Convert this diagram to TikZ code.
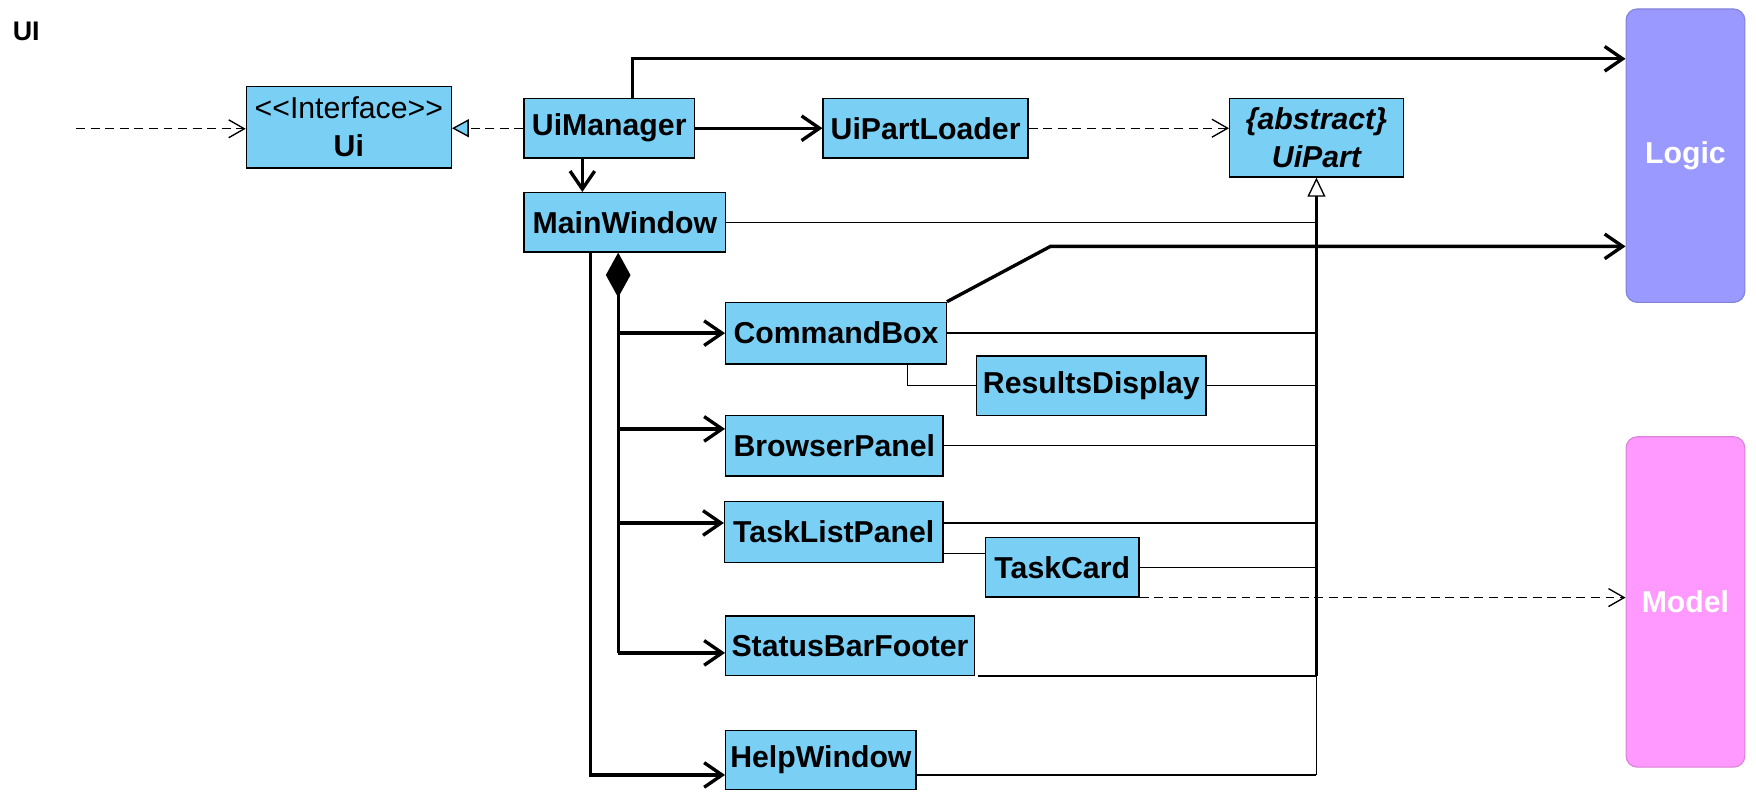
\documentclass[tikz,border=0pt]{standalone}
\usepackage{fontspec}
\setmainfont{Liberation Sans}
\usetikzlibrary{arrows.meta,calc}
\definecolor{boxc}{HTML}{7ACFF5}
\definecolor{logicc}{HTML}{9999FF}
\definecolor{modelc}{HTML}{FF99FF}
\begin{document}
\begin{tikzpicture}[x=0.5pt,y=-0.5pt,
  cls/.style={draw=black, line width=0.6pt, fill=boxc, inner sep=0pt, align=center, font=\fontsize{13.5}{17}\selectfont\bfseries},
  comp/.style={fill=#1, draw=#1!85!black, line width=0.5pt, rounded corners=5pt, text=white, font=\fontsize{13.5}{17}\selectfont\bfseries, inner sep=0pt, minimum width=53pt},
  assoc/.style={line width=1.5pt, -{Straight Barb[length=8pt,width=11pt]}},
  plainthick/.style={line width=1.5pt},
  thinline/.style={line width=0.6pt},
  dep/.style={line width=0.6pt, dash pattern=on 4pt off 2.5pt, -{Straight Barb[length=7pt,width=8pt,line width=0.6pt]}},
  real/.style={line width=0.6pt, dash pattern=on 4pt off 2.5pt, -{Triangle[open,length=7.5pt,width=8pt,fill=boxc,line width=0.6pt]}},
  gen/.style={line width=1.5pt, -{Triangle[open,length=8.5pt,width=8pt,fill=white,line width=0.6pt]}},
]
\useasboundingbox (0,0) rectangle (1568,716);

% title
\node[font=\fontsize{12}{14}\selectfont\bfseries, anchor=west, inner sep=0pt] (title) at (11,28) {UI};

% classes
\node[cls, minimum width=91.5pt, minimum height=36.5pt] (Ui) at (311.5,113.5) {{\mdseries <\kern0pt<Interface>\kern0pt>}\\Ui};
\node[cls, minimum width=76pt, minimum height=26.5pt] (UiManager) at (544,114.5) {UiManager};
\node[cls, minimum width=91.5pt, minimum height=26.5pt] (UiPartLoader) at (826.5,114.5) {UiPartLoader};
\node[cls, minimum width=77.5pt, minimum height=35pt, font=\fontsize{13.5}{17}\selectfont\bfseries\itshape] (UiPart) at (1175.5,123) {\{abstract\}\\UiPart};
\node[cls, minimum width=90pt, minimum height=26.5pt] (MainWindow) at (558,198.5) {MainWindow};
\node[cls, minimum width=98.5pt, minimum height=27.5pt] (CommandBox) at (746.5,297.5) {CommandBox};
\node[cls, minimum width=102.5pt, minimum height=26.5pt] (ResultsDisplay) at (974.5,344.5) {ResultsDisplay};
\node[cls, minimum width=97pt, minimum height=27pt] (BrowserPanel) at (745,398) {BrowserPanel};
\node[cls, minimum width=97.5pt, minimum height=27pt] (TaskListPanel) at (744.5,475) {TaskListPanel};
\node[cls, minimum width=68.5pt, minimum height=26.5pt] (TaskCard) at (948.5,506.5) {TaskCard};
\node[cls, minimum width=111pt, minimum height=26.5pt] (StatusBarFooter) at (759,576.5) {StatusBarFooter};
\node[cls, minimum width=85pt, minimum height=26.5pt] (HelpWindow) at (733,678.5) {HelpWindow};

% components
\node[comp=logicc, minimum height=131pt] (Logic) at (1505,139) {Logic};
\node[comp=modelc, minimum height=147.5pt] (Model) at (1505,537.5) {Model};

% helper coordinates
\coordinate (src) at (68,115);
\coordinate (umtop) at ($(UiManager.north)+(21,0)$);
\coordinate (logicA) at ($(Logic.north west)+(0,45)$);
\coordinate (cbend) at (938,220);
\coordinate (dtop) at ($(MainWindow.south)+(-6,0)$);
\coordinate (htop) at ($(MainWindow.south)+(-31,0)$);
\coordinate (bpIn) at ($(BrowserPanel.west)+(0,-15)$);
\coordinate (tlpIn) at ($(TaskListPanel.west)+(0,-8)$);
\coordinate (sbfIn) at ($(StatusBarFooter.west)+(0,6.5)$);
\coordinate (hwIn) at ($(HelpWindow.west)+(0,13.5)$);
\coordinate (tlpOut) at ($(TaskListPanel.east)+(0,-8)$);
\coordinate (tlpCard) at ($(TaskListPanel.east)+(0,19)$);
\coordinate (sbfOut) at ($(StatusBarFooter.south east)+(3,0)$);
\coordinate (hwOut) at ($(HelpWindow.east)+(0,13.5)$);
\coordinate (cbDown) at ($(CommandBox.south east)+(-35,0)$);
\coordinate (busB) at (UiPart.south |- sbfOut);
\coordinate (busC) at (UiPart.south |- hwOut);

% top connectors
\draw[dep] (src) -- (src -| Ui.west);
\draw[real] (UiManager.west) -- (UiManager.west -| Ui.east);
\draw[assoc] (UiManager.east) -- (UiManager.east -| UiPartLoader.west);
\draw[dep] (UiPartLoader.east) -- (UiPartLoader.east -| UiPart.west);
\draw[assoc] (umtop) |- (logicA);
\draw[assoc] ($(UiManager.south)+(-24,0)$) -- ($(MainWindow.north)+(-38,0)$);

% generalization bus
\draw[gen] (busB) -- (UiPart.south);
\draw[thinline] (busB) -- (busC);
\draw[thinline] (MainWindow.east) -- (MainWindow.east -| UiPart.south);
\draw[thinline] (CommandBox.east) -- (CommandBox.east -| UiPart.south);
\draw[thinline] (ResultsDisplay.east) -- (ResultsDisplay.east -| UiPart.south);
\draw[thinline] (BrowserPanel.east) -- (BrowserPanel.east -| UiPart.south);
\draw[thinline] (tlpOut) -- (tlpOut -| UiPart.south);
\draw[thinline] (TaskCard.east) -- (TaskCard.east -| UiPart.south);
\draw[thinline] (sbfOut) -- (busB);
\draw[thinline] (hwOut) -- (busC);

% composition
\draw[plainthick, {Diamond[length=20pt,width=11pt]}-] (dtop) -- (dtop |- sbfIn);
\draw[assoc] (dtop |- CommandBox.west) -- (CommandBox.west);
\draw[assoc] (dtop |- bpIn) -- (bpIn);
\draw[assoc] (dtop |- tlpIn) -- (tlpIn);
\draw[assoc] (dtop |- sbfIn) -- (sbfIn);
\draw[assoc] (htop) |- (hwIn);

% other links
\draw[thinline] (cbDown) |- (ResultsDisplay.west);
\draw[thinline] (tlpCard) -- (tlpCard -| TaskCard.west);
\draw[assoc] (CommandBox.north east) -- (cbend) -- (cbend -| Logic.west);
\draw[dep] (TaskCard.south east) -- (TaskCard.south east -| Model.west);
\end{tikzpicture}
\end{document}
